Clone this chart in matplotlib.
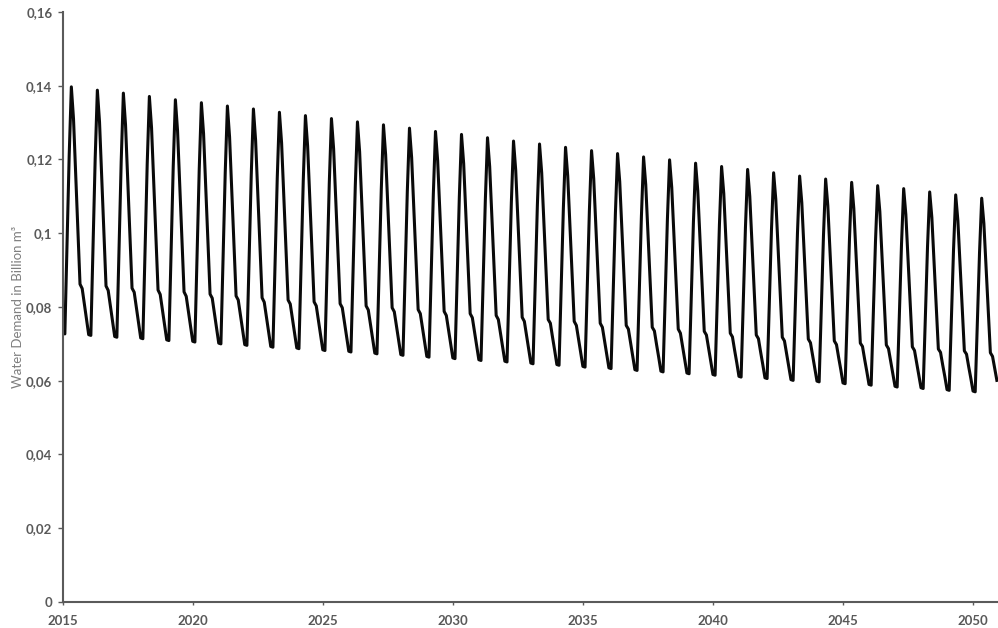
import numpy as np
import matplotlib
matplotlib.use('Agg')
import matplotlib.pyplot as plt
from matplotlib.ticker import FuncFormatter, MultipleLocator

plt.rcParams['font.family'] = ['Lato', 'DejaVu Sans']

# monthly water demand (billion m3), one row per year, Jan..Dec
years = list(range(2015, 2051))
demand = [
    [0.0729, 0.0727, 0.0970, 0.1210, 0.1397, 0.1310, 0.1160, 0.1010, 0.0862, 0.0850, 0.0808, 0.0767],  # 2015
    [0.0725, 0.0723, 0.0964, 0.1203, 0.1388, 0.1302, 0.1153, 0.1004, 0.0857, 0.0845, 0.0803, 0.0762],
    [0.0720, 0.0718, 0.0958, 0.1195, 0.1380, 0.1294, 0.1146, 0.0998, 0.0851, 0.0840, 0.0798, 0.0758],
    [0.0716, 0.0714, 0.0952, 0.1188, 0.1371, 0.1286, 0.1138, 0.0991, 0.0846, 0.0834, 0.0793, 0.0753],
    [0.0711, 0.0709, 0.0946, 0.1180, 0.1362, 0.1278, 0.1131, 0.0985, 0.0841, 0.0829, 0.0788, 0.0748],
    [0.0707, 0.0705, 0.0940, 0.1173, 0.1354, 0.1270, 0.1124, 0.0979, 0.0835, 0.0824, 0.0783, 0.0743],  # 2020
    [0.0702, 0.0700, 0.0934, 0.1165, 0.1345, 0.1261, 0.1117, 0.0973, 0.0830, 0.0819, 0.0778, 0.0739],
    [0.0698, 0.0696, 0.0928, 0.1158, 0.1337, 0.1253, 0.1110, 0.0966, 0.0825, 0.0813, 0.0773, 0.0734],
    [0.0693, 0.0691, 0.0922, 0.1150, 0.1328, 0.1245, 0.1103, 0.0960, 0.0819, 0.0808, 0.0768, 0.0729],
    [0.0689, 0.0687, 0.0916, 0.1143, 0.1319, 0.1237, 0.1095, 0.0954, 0.0814, 0.0803, 0.0763, 0.0724],
    [0.0684, 0.0682, 0.0910, 0.1135, 0.1311, 0.1229, 0.1088, 0.0948, 0.0809, 0.0798, 0.0758, 0.0720],  # 2025
    [0.0680, 0.0678, 0.0904, 0.1128, 0.1302, 0.1221, 0.1081, 0.0941, 0.0803, 0.0792, 0.0753, 0.0715],
    [0.0675, 0.0673, 0.0898, 0.1120, 0.1294, 0.1213, 0.1074, 0.0935, 0.0798, 0.0787, 0.0748, 0.0710],
    [0.0671, 0.0669, 0.0892, 0.1113, 0.1285, 0.1205, 0.1067, 0.0929, 0.0793, 0.0782, 0.0743, 0.0705],
    [0.0666, 0.0664, 0.0886, 0.1105, 0.1276, 0.1197, 0.1060, 0.0923, 0.0788, 0.0777, 0.0738, 0.0701],
    [0.0662, 0.0660, 0.0880, 0.1098, 0.1268, 0.1189, 0.1052, 0.0916, 0.0782, 0.0771, 0.0733, 0.0696],  # 2030
    [0.0657, 0.0655, 0.0874, 0.1090, 0.1259, 0.1181, 0.1045, 0.0910, 0.0777, 0.0766, 0.0728, 0.0691],
    [0.0653, 0.0651, 0.0868, 0.1083, 0.1250, 0.1172, 0.1038, 0.0904, 0.0772, 0.0761, 0.0723, 0.0686],
    [0.0648, 0.0646, 0.0862, 0.1075, 0.1242, 0.1164, 0.1031, 0.0898, 0.0766, 0.0756, 0.0718, 0.0682],
    [0.0644, 0.0642, 0.0856, 0.1068, 0.1233, 0.1156, 0.1024, 0.0891, 0.0761, 0.0750, 0.0713, 0.0677],
    [0.0639, 0.0637, 0.0850, 0.1060, 0.1224, 0.1148, 0.1017, 0.0885, 0.0756, 0.0745, 0.0708, 0.0672],  # 2035
    [0.0635, 0.0633, 0.0844, 0.1053, 0.1216, 0.1140, 0.1009, 0.0879, 0.0750, 0.0740, 0.0703, 0.0667],
    [0.0630, 0.0628, 0.0838, 0.1045, 0.1207, 0.1132, 0.1002, 0.0873, 0.0745, 0.0735, 0.0698, 0.0663],
    [0.0626, 0.0624, 0.0832, 0.1038, 0.1199, 0.1124, 0.0995, 0.0866, 0.0740, 0.0729, 0.0693, 0.0658],
    [0.0621, 0.0619, 0.0826, 0.1030, 0.1190, 0.1116, 0.0988, 0.0860, 0.0734, 0.0724, 0.0688, 0.0653],
    [0.0617, 0.0615, 0.0820, 0.1023, 0.1181, 0.1108, 0.0981, 0.0854, 0.0729, 0.0719, 0.0683, 0.0649],  # 2040
    [0.0612, 0.0610, 0.0814, 0.1015, 0.1173, 0.1100, 0.0974, 0.0848, 0.0724, 0.0714, 0.0678, 0.0644],
    [0.0608, 0.0606, 0.0808, 0.1008, 0.1164, 0.1092, 0.0966, 0.0842, 0.0718, 0.0708, 0.0673, 0.0639],
    [0.0603, 0.0601, 0.0802, 0.1000, 0.1155, 0.1083, 0.0959, 0.0835, 0.0713, 0.0703, 0.0668, 0.0634],
    [0.0599, 0.0597, 0.0796, 0.0993, 0.1147, 0.1075, 0.0952, 0.0829, 0.0708, 0.0698, 0.0663, 0.0630],
    [0.0594, 0.0592, 0.0790, 0.0985, 0.1138, 0.1067, 0.0945, 0.0823, 0.0702, 0.0693, 0.0658, 0.0625],  # 2045
    [0.0590, 0.0588, 0.0784, 0.0978, 0.1129, 0.1059, 0.0938, 0.0817, 0.0697, 0.0687, 0.0653, 0.0620],
    [0.0585, 0.0583, 0.0778, 0.0970, 0.1121, 0.1051, 0.0931, 0.0810, 0.0692, 0.0682, 0.0648, 0.0615],
    [0.0581, 0.0579, 0.0772, 0.0963, 0.1112, 0.1043, 0.0923, 0.0804, 0.0686, 0.0677, 0.0643, 0.0611],
    [0.0576, 0.0574, 0.0766, 0.0955, 0.1104, 0.1035, 0.0916, 0.0798, 0.0681, 0.0672, 0.0638, 0.0606],
    [0.0572, 0.0570, 0.0760, 0.0948, 0.1095, 0.1027, 0.0909, 0.0792, 0.0676, 0.0666, 0.0633, 0.0601],  # 2050
]
ylabel_text = 'Water Demand in Billion m³'

# time axis in decimal years, one point per month
t = np.array([y + m / 12.0 for y in years for m in range(12)])
v = np.array(demand).ravel()

fig = plt.figure(figsize=(9.98, 6.28), dpi=100)
ax = fig.add_axes([0.0628, 0.0414, 0.9372, 0.9395])

ax.plot(t, v, color='#0a0a0a', lw=2.2, solid_joinstyle='round')

ax.set_xlim(2015, 2050.96)
ax.set_ylim(0, 0.16)
ax.xaxis.set_major_locator(MultipleLocator(5))
ax.yaxis.set_major_locator(MultipleLocator(0.02))

def comma_fmt(x, pos):
    s = f'{x:.2f}'.rstrip('0').rstrip('.')
    return s.replace('.', ',')

ax.yaxis.set_major_formatter(FuncFormatter(comma_fmt))
ax.xaxis.set_major_formatter(FuncFormatter(lambda x, p: f'{int(round(x))}'))

for s in ['top', 'right']:
    ax.spines[s].set_visible(False)
for s in ['left', 'bottom']:
    ax.spines[s].set_color('#5a5a5a')
    ax.spines[s].set_linewidth(1.5)

ax.tick_params(axis='y', direction='out', length=3.5, width=1, color='#5a5a5a',
               labelsize=9.5, labelcolor='#595959', pad=4)
ax.tick_params(axis='x', direction='out', length=2.5, width=1, color='#5a5a5a',
               labelsize=9.5, labelcolor='#595959', pad=6.5)
for lab in ax.get_xticklabels() + ax.get_yticklabels():
    lab.set_fontweight('bold')

ax.set_ylabel(ylabel_text, fontsize=9.5, color='#7f7f7f')
ax.yaxis.set_label_coords(-0.041, 0.5)

fig.savefig('out.png', dpi=100)
